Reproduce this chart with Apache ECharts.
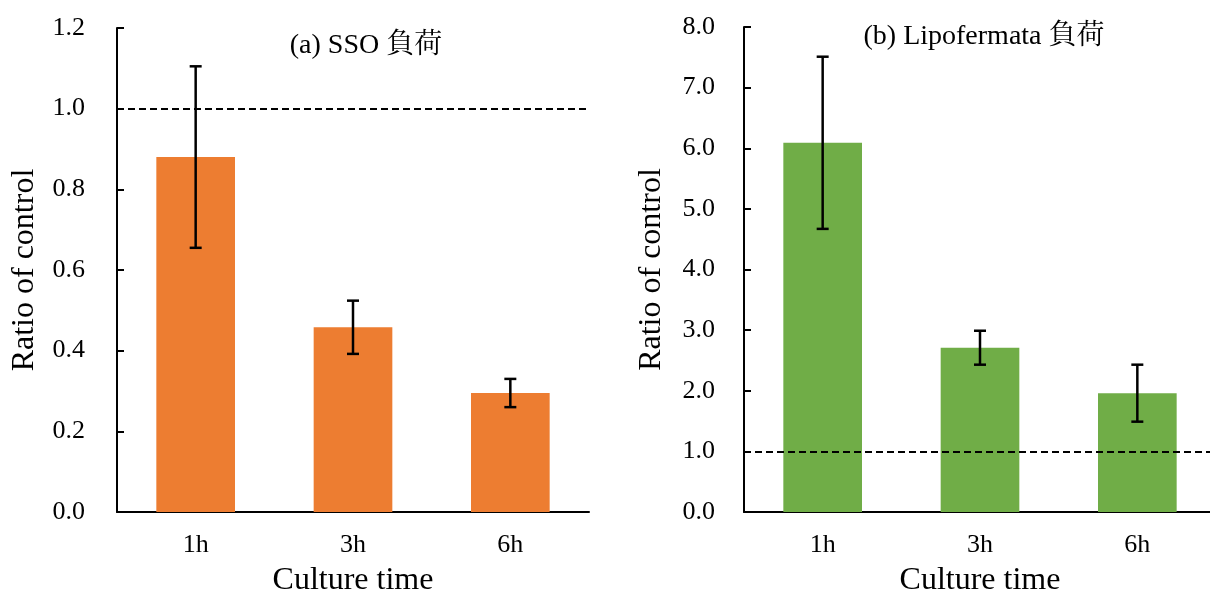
<!DOCTYPE html>
<html>
<head>
<meta charset="utf-8">
<script src="https://cdn.jsdelivr.net/npm/echarts@6/dist/echarts.min.js"></script>
<style>html,body{margin:0;padding:0;background:#fff;}#c{width:1210px;height:601px;}</style>
</head>
<body>
<div id="c"></div>
<script>
const categories = ['1h', '3h', '6h'];
const ssoMean = [0.88, 0.458, 0.295];
const ssoErr = [0.225, 0.066, 0.035];
const lipoMean = [6.09, 2.71, 1.96];
const lipoErr = [1.42, 0.28, 0.47];
const leftTicks = [0, 0.2, 0.4, 0.6, 0.8, 1.0, 1.2];
const rightTicks = [0, 1, 2, 3, 4, 5, 6, 7, 8];
const titles = ['(a) SSO 負荷', '(b) Lipofermata 負荷'];
const xName = 'Culture time';
const yName = 'Ratio of control';

const FONT = "'Liberation Serif', 'Noto Serif CJK JP', 'Noto Sans CJK JP', serif";
const chart = echarts.init(document.getElementById('c'));

function errData(mean, err) {
  return mean.map((m, i) => [i, m - err[i], m + err[i]]);
}
function renderErr(params, api) {
  const x = api.value(0);
  const lo = api.coord([x, api.value(1)]);
  const hi = api.coord([x, api.value(2)]);
  const hw = 6;
  const st = { stroke: '#000', lineWidth: 2.5 };
  return {
    type: 'group',
    children: [
      { type: 'line', shape: { x1: lo[0], y1: lo[1], x2: hi[0], y2: hi[1] }, style: st },
      { type: 'line', shape: { x1: lo[0] - hw, y1: lo[1], x2: lo[0] + hw, y2: lo[1] }, style: st },
      { type: 'line', shape: { x1: hi[0] - hw, y1: hi[1], x2: hi[0] + hw, y2: hi[1] }, style: st }
    ]
  };
}
function xAxis(gi) {
  return {
    type: 'category', gridIndex: gi, data: categories, boundaryGap: true,
    name: xName, nameLocation: 'middle', nameGap: 53,
    nameTextStyle: { fontFamily: FONT, fontSize: 32, color: '#000' },
    axisLine: { lineStyle: { color: '#000', width: 2 } },
    axisTick: { inside: true, length: 7, lineStyle: { color: '#000', width: 2 } },
    axisLabel: { fontFamily: FONT, fontSize: 26, color: '#000', margin: 20 }
  };
}
function yAxis(gi, ticks, margin) {
  const interval = ticks[1] - ticks[0];
  return {
    type: 'value', gridIndex: gi, min: ticks[0], max: ticks[ticks.length - 1], interval: interval,
    name: yName, nameLocation: 'middle', nameGap: 76,
    nameTextStyle: { fontFamily: FONT, fontSize: 32, color: '#000' },
    axisLine: { show: true, lineStyle: { color: '#000', width: 2 } },
    axisTick: { show: true, inside: true, length: 7, lineStyle: { color: '#000', width: 2 } },
    axisLabel: { fontFamily: FONT, fontSize: 26, color: '#000', margin: margin,
      formatter: v => v.toFixed(1) },
    splitLine: { show: false }
  };
}
function markLine() {
  return {
    silent: true, symbol: 'none', label: { show: false },
    lineStyle: { color: '#000', type: [7, 4], width: 2 },
    data: [{ yAxis: 1.0 }]
  };
}

chart.setOption({
  animation: false,
  title: [
    { text: titles[0], left: 361, top: 27, textAlign: 'center',
      textStyle: { fontFamily: FONT, fontSize: 28, fontWeight: 'normal', color: '#000' } },
    { text: titles[1], left: 979, top: 18, textAlign: 'center',
      textStyle: { fontFamily: FONT, fontSize: 28, fontWeight: 'normal', color: '#000' } }
  ],
  grid: [
    { left: 117, top: 28, width: 472, height: 484, outerBoundsMode: 'none', containLabel: false },
    { left: 744, top: 27, width: 472, height: 485, outerBoundsMode: 'none', containLabel: false }
  ],
  xAxis: [xAxis(0), xAxis(1)],
  yAxis: [yAxis(0, leftTicks, 32), yAxis(1, rightTicks, 29)],
  series: [
    { type: 'bar', xAxisIndex: 0, yAxisIndex: 0, data: ssoMean, barWidth: '50%',
      itemStyle: { color: '#ED7D31' }, markLine: markLine(), z: 2 },
    { type: 'custom', xAxisIndex: 0, yAxisIndex: 0, data: errData(ssoMean, ssoErr),
      renderItem: renderErr, z: 5 },
    { type: 'bar', xAxisIndex: 1, yAxisIndex: 1, data: lipoMean, barWidth: '50%',
      itemStyle: { color: '#70AD47' }, markLine: markLine(), z: 2 },
    { type: 'custom', xAxisIndex: 1, yAxisIndex: 1, data: errData(lipoMean, lipoErr),
      renderItem: renderErr, z: 5 }
  ]
});
</script>
</body>
</html>
